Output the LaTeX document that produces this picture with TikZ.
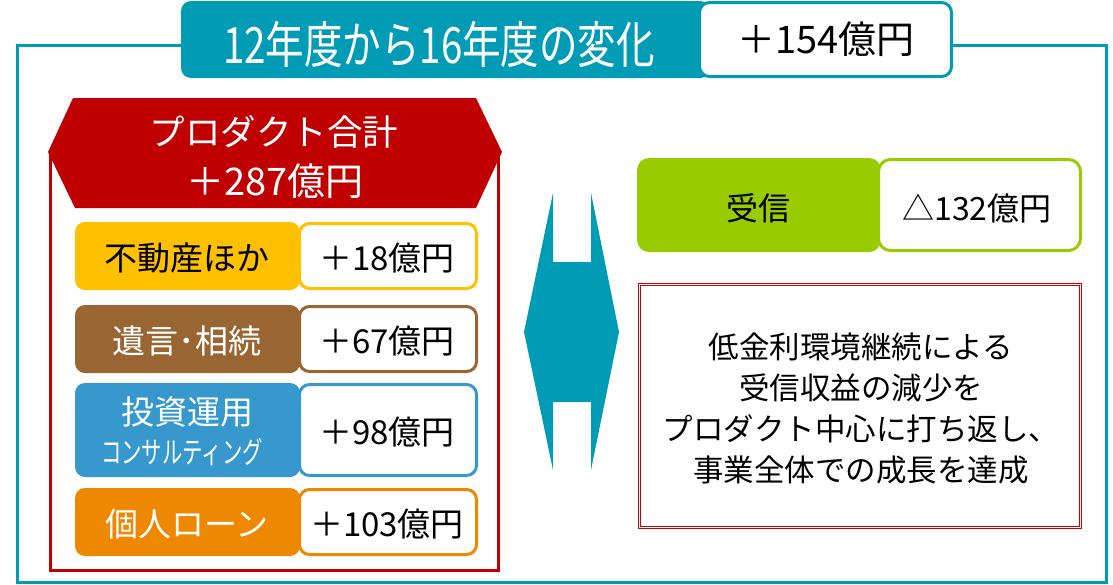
\documentclass[tikz,border=0pt]{standalone}
\usepackage{graphicx}
\usepackage{fontspec}
\setmainfont{Noto Sans CJK JP}
\definecolor{tealc}{RGB}{0,155,181}
\definecolor{hdred}{RGB}{192,0,0}
\definecolor{goldc}{RGB}{255,192,0}
\definecolor{brownc}{RGB}{153,102,51}
\definecolor{bluec}{RGB}{54,152,205}
\definecolor{orangec}{RGB}{238,136,0}
\definecolor{greenc}{RGB}{153,204,0}
\definecolor{dred}{RGB}{204,0,0}
\newcommand\fsz[1]{\fontsize{#1}{#1}\selectfont}
\tikzset{
  lbox/.style={rounded corners=10pt, inner sep=0pt, minimum width=225, draw=none},
  wbox/.style={rounded corners=10pt, inner sep=0pt, minimum width=177, fill=white, line width=3pt},
  txt/.style={inner sep=0pt, anchor=center},
}
\begin{document}
\begin{tikzpicture}[x=1pt,y=-1pt]
\useasboundingbox (0,0) rectangle (1113,584);
% outer teal frame
\draw[tealc, line width=3pt] (17,45) rectangle (1106.5,582);
% title
\node[rounded corners=10pt, fill=tealc, minimum width=529, minimum height=77, inner sep=0pt] (ttl) at (445.5,39.5) {};
\node[rounded corners=10pt, draw=tealc, line width=3pt, fill=white, minimum width=252, minimum height=74, inner sep=0pt] (tval) at (825.5,39.5) {};
\node[txt, text=white] (ttltxt) at (439,44.5) {\scalebox{0.77}[1]{\fsz{50}12年度から16年度の変化}};
\node[txt] (tvaltxt) at (826,39.5) {\fsz{38}＋154億円};
% product frame
\draw[hdred, line width=3.5pt] (50.5,152) -- (50.5,570.5) -- (498.5,570.5) -- (498.5,152);
\fill[hdred] (73,98) -- (476,98) -- (502,152) -- (476,208) -- (75,208) -- (48,152) -- cycle;
\node[txt, text=white] (h1) at (274,132) {\fsz{35.5}プロダクト合計};
\node[txt, text=white] (h2) at (275,181) {\fsz{38}＋287億円};
% row 1
\node[lbox, fill=goldc, minimum height=68] (r1l) at (187.5,256) {};
\node[wbox, draw=goldc, minimum height=65] (r1r) at (388,256) {};
\node[txt] (r1lt) at (187,258) {\fsz{33}不動産ほか};
\node[txt] (r1rt) at (387,258.5) {\fsz{33}＋18億円};
% row 2
\node[lbox, fill=brownc, minimum height=68] (r2l) at (187.5,339) {};
\node[wbox, draw=brownc, minimum height=65] (r2r) at (388,339) {};
\node[txt, text=white] (r2lt) at (187,341) {\fsz{33}遺言･相続};
\node[txt] (r2rt) at (387,341) {\fsz{33}＋67億円};
% row 3
\node[lbox, fill=bluec, minimum height=94] (r3l) at (187.5,430) {};
\node[wbox, draw=bluec, minimum height=91] (r3r) at (388,430) {};
\node[txt, text=white] (r3lt1) at (187,412) {\fsz{33}投資運用};
\node[txt, text=white] (r3lt2) at (182,452) {\scalebox{0.68}[1]{\fsz{30}コンサルティング}};
\node[txt] (r3rt) at (387,432) {\fsz{33}＋98億円};
% row 4
\node[lbox, fill=orangec, minimum height=68] (r4l) at (187.5,522) {};
\node[wbox, draw=orangec, minimum height=65] (r4r) at (388,522) {};
\node[txt, text=white] (r4lt) at (187,524) {\fsz{33}個人ローン};
\node[txt] (r4rt) at (387,524) {\fsz{33}＋103億円};
% double arrow
\fill[tealc] (553,193) -- (524,332) -- (553,470) -- (553,402) -- (591,402) -- (591,470)
  -- (619,332) -- (591,193) -- (591,262) -- (553,262) -- cycle;
% right: 受信
\node[rounded corners=12pt, fill=greenc, minimum width=244, minimum height=94, inner sep=0pt] (gl) at (759,205) {};
\node[rounded corners=12pt, draw=greenc, line width=3pt, fill=white, minimum width=202, minimum height=91, inner sep=0pt] (gr) at (979.5,205) {};
\node[txt] (glt) at (758,208) {\fsz{32}受信};
\node[txt] (grt) at (977,208) {\fsz{32}△132億円};
% red message box
\node[draw=dred, line width=1.1pt, double=white, double distance=1.6pt, minimum width=441, minimum height=243, inner sep=0pt] (msg) at (860,406) {};
\node[txt, align=center, font=\fontsize{30.5}{41}\selectfont] (msgt) at (861,408.5)
  {低金利環境継続による\\受信収益の減少を\\プロダクト中心に打ち返し、\\事業全体での成長を達成};
\end{tikzpicture}
\end{document}
